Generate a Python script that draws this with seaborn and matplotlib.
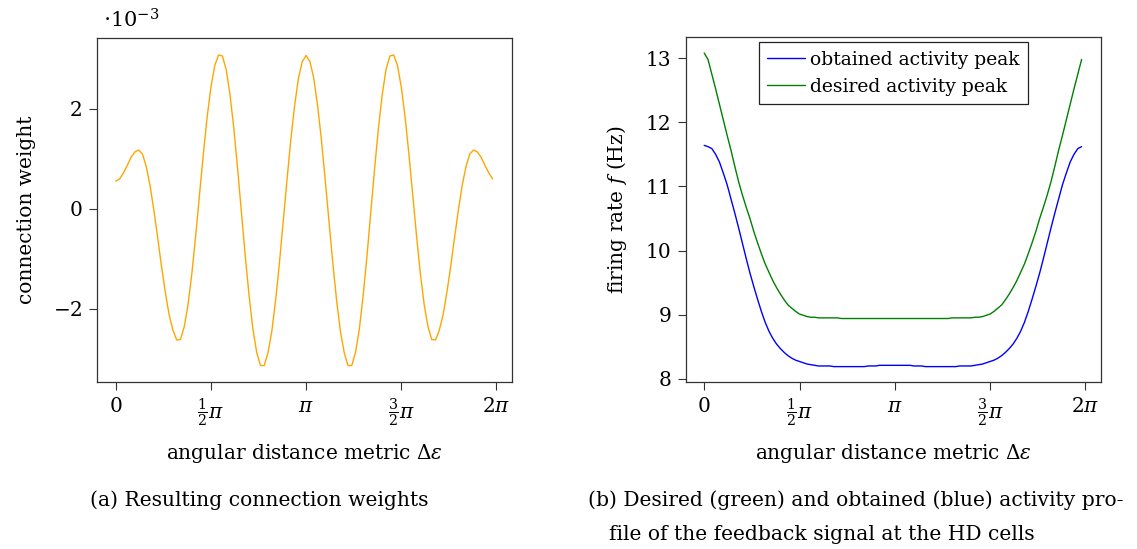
import numpy as np
import matplotlib
matplotlib.use("Agg")
import matplotlib.pyplot as plt
import seaborn as sns

# 100 cells around the circle, angle of each cell
n_cells = 100
angle = np.arange(n_cells) * 2 * np.pi / n_cells

# connection weights (in units of 1e-3)
weight_e3 = [
    0.56, 0.60, 0.72, 0.87, 1.03, 1.14, 1.18, 1.10, 0.85, 0.47,
    -0.02, -0.57, -1.14, -1.66, -2.11, -2.42, -2.62, -2.61, -2.35, -1.90,
    -1.28, -0.53, 0.29, 1.10, 1.84, 2.44, 2.87, 3.08, 3.06, 2.79,
    2.29, 1.62, 0.81, -0.06, -0.93, -1.72, -2.39, -2.86, -3.13, -3.13,
    -2.87, -2.44, -1.82, -1.07, -0.24, 0.60, 1.40, 2.08, 2.62, 2.95,
    3.07, 2.95, 2.62, 2.08, 1.40, 0.60, -0.24, -1.07, -1.82, -2.44,
    -2.87, -3.13, -3.13, -2.86, -2.39, -1.72, -0.93, -0.06, 0.81, 1.62,
    2.29, 2.79, 3.06, 3.08, 2.87, 2.44, 1.84, 1.10, 0.29, -0.53,
    -1.28, -1.90, -2.35, -2.61, -2.62, -2.42, -2.11, -1.66, -1.14, -0.57,
    -0.02, 0.47, 0.85, 1.10, 1.18, 1.14, 1.03, 0.87, 0.72, 0.60,
]

# firing rates (Hz)
obtained_peak = [
    11.64, 11.62, 11.59, 11.50, 11.38, 11.21, 11.03, 10.81, 10.59, 10.36,
    10.12, 9.88, 9.65, 9.44, 9.24, 9.05, 8.88, 8.74, 8.63, 8.54,
    8.47, 8.41, 8.36, 8.32, 8.29, 8.27, 8.25, 8.23, 8.22, 8.21,
    8.20, 8.20, 8.20, 8.20, 8.19, 8.19, 8.19, 8.19, 8.19, 8.19,
    8.19, 8.19, 8.19, 8.20, 8.20, 8.20, 8.21, 8.21, 8.21, 8.21,
    8.21, 8.21, 8.21, 8.21, 8.21, 8.20, 8.20, 8.20, 8.19, 8.19,
    8.19, 8.19, 8.19, 8.19, 8.19, 8.19, 8.19, 8.20, 8.20, 8.20,
    8.20, 8.21, 8.22, 8.23, 8.25, 8.27, 8.29, 8.32, 8.36, 8.41,
    8.47, 8.54, 8.63, 8.74, 8.88, 9.05, 9.24, 9.44, 9.65, 9.88,
    10.12, 10.36, 10.59, 10.81, 11.03, 11.21, 11.38, 11.50, 11.59, 11.62,
]

desired_peak = [
    13.08, 12.98, 12.75, 12.52, 12.28, 12.04, 11.80, 11.57, 11.32, 11.08,
    10.87, 10.68, 10.50, 10.30, 10.12, 9.95, 9.79, 9.66, 9.53, 9.42,
    9.32, 9.23, 9.15, 9.10, 9.05, 9.01, 8.99, 8.97, 8.96, 8.96,
    8.95, 8.95, 8.95, 8.95, 8.95, 8.95, 8.94, 8.94, 8.94, 8.94,
    8.94, 8.94, 8.94, 8.94, 8.94, 8.94, 8.94, 8.94, 8.94, 8.94,
    8.94, 8.94, 8.94, 8.94, 8.94, 8.94, 8.94, 8.94, 8.94, 8.94,
    8.94, 8.94, 8.94, 8.94, 8.94, 8.95, 8.95, 8.95, 8.95, 8.95,
    8.95, 8.96, 8.96, 8.97, 8.99, 9.01, 9.05, 9.10, 9.15, 9.23,
    9.32, 9.42, 9.53, 9.66, 9.79, 9.95, 10.12, 10.30, 10.50, 10.68,
    10.87, 11.08, 11.32, 11.57, 11.80, 12.04, 12.28, 12.52, 12.75, 12.98,
]

xtick_pos = [0, np.pi / 2, np.pi, 3 * np.pi / 2, 2 * np.pi]
xtick_labels = ["0", r"$\frac{1}{2}\pi$", r"$\pi$", r"$\frac{3}{2}\pi$", r"$2\pi$"]

sns.set_theme(style="ticks")
plt.rcParams["font.family"] = ["DejaVu Serif"]
plt.rcParams["mathtext.fontset"] = "dejavuserif"
plt.rcParams["font.size"] = 14.5
plt.rcParams["text.color"] = "black"
plt.rcParams["axes.labelcolor"] = "black"

W, H = 1137, 549
fig = plt.figure(figsize=(W / 100, H / 100), dpi=100)
ax1 = fig.add_axes([97 / W, 1 - 382 / H, 415 / W, 344 / H])
ax2 = fig.add_axes([686 / W, 1 - 382 / H, 415 / W, 345 / H])

sns.lineplot(x=angle, y=weight_e3, ax=ax1, color="#FFA500", linewidth=1.0)
sns.lineplot(x=angle, y=obtained_peak, ax=ax2, color="#0000FF", linewidth=1.0,
             label="obtained activity peak")
sns.lineplot(x=angle, y=desired_peak, ax=ax2, color="#008000", linewidth=1.0,
             label="desired activity peak")

ax1.set_xlim(-0.31, 6.54)
ax1.set_ylim(-3.46, 3.42)
ax1.set_yticks([-2, 0, 2])
ax1.set_yticklabels(["$-2$", "0", "2"])
ax2.set_xlim(-0.30, 6.54)
ax2.set_ylim(7.95, 13.33)
ax2.set_yticks([8, 9, 10, 11, 12, 13])

for ax in (ax1, ax2):
    ax.set_xticks(xtick_pos)
    ax.set_xticklabels(xtick_labels)
    for lbl in ax.get_xticklabels():
        lbl.set_verticalalignment("top")
    ax.tick_params(direction="out", length=5.5, width=0.8, color="#333333",
                   labelsize=14.5, pad=5, labelcolor="black")
    for sp in ax.spines.values():
        sp.set_visible(True)
        sp.set_linewidth(0.9)
        sp.set_color("#333333")
    ax.set_xlabel(r"angular distance metric $\Delta\epsilon$", fontsize=14.5)
    ax.xaxis.set_label_coords(0.5, -0.175)

ax1.set_ylabel("connection weight", fontsize=14.5)
ax1.yaxis.set_label_coords(-0.148, 0.5)
ax2.set_ylabel(r"firing rate $f$ (Hz)", fontsize=14.5)
ax2.yaxis.set_label_coords(-0.138, 0.5)

leg = ax2.legend(loc="upper center", bbox_to_anchor=(0.5, 0.985), borderaxespad=0,
                 fancybox=False, framealpha=1, edgecolor="#222222",
                 handlelength=2.0, handletextpad=0.3, labelspacing=0.5,
                 borderpad=0.45, fontsize=13.5)
leg.get_frame().set_linewidth(0.9)

fig.text(103 / W, 1 - 20 / H, r"$\cdot 10^{-3}$", ha="left", va="center", fontsize=15)
fig.text(259 / W, 1 - 500 / H, "(a) Resulting connection weights",
         ha="center", va="center", fontsize=14.6)
fig.text(588 / W, 1 - 500 / H, "(b) Desired (green) and obtained (blue) activity pro-",
         ha="left", va="center", fontsize=14.6)
fig.text(609 / W, 1 - 535 / H, "file of the feedback signal at the HD cells",
         ha="left", va="center", fontsize=14.6)

fig.savefig("out.png", dpi=100)
